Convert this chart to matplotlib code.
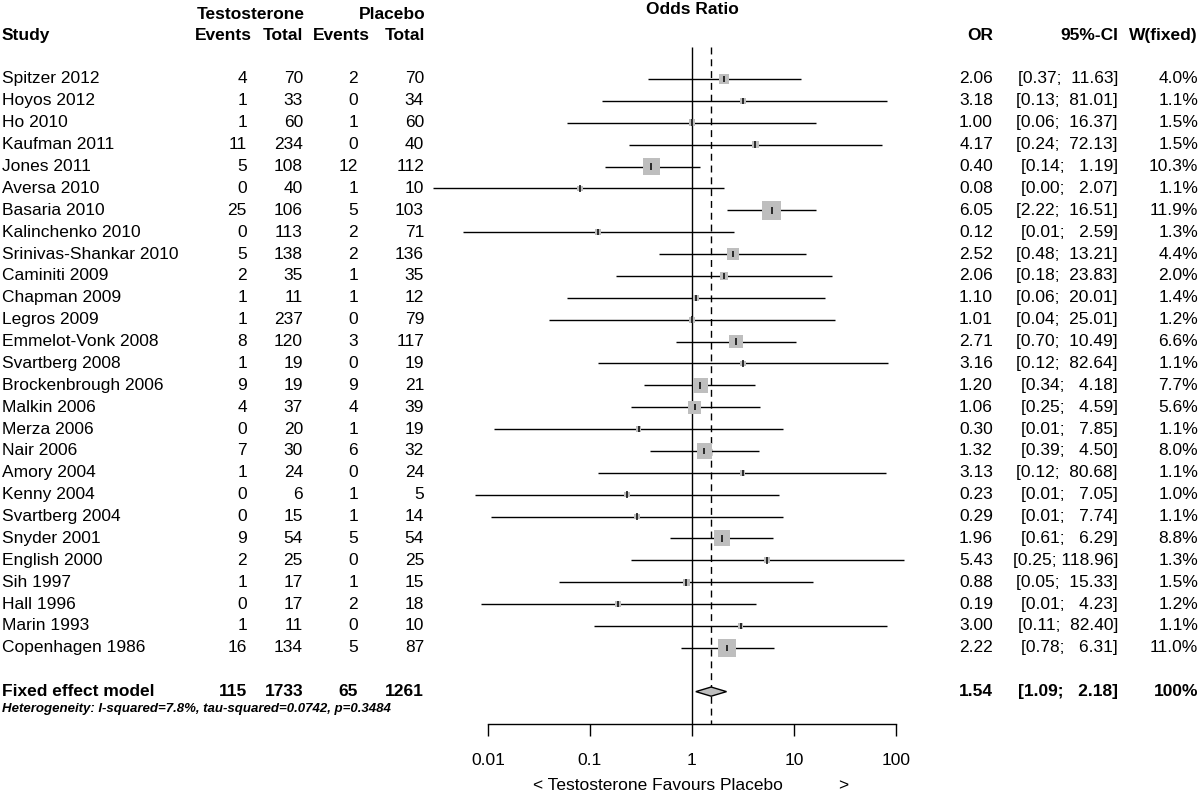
import numpy as np
import matplotlib
matplotlib.use("Agg")
import matplotlib.pyplot as plt
from matplotlib.transforms import blended_transform_factory

plt.rcParams['font.family'] = ['Liberation Sans', 'DejaVu Sans']

studies = ["Spitzer 2012", "Hoyos 2012", "Ho 2010", "Kaufman 2011", "Jones 2011",
           "Aversa 2010", "Basaria 2010", "Kalinchenko 2010", "Srinivas-Shankar 2010",
           "Caminiti 2009", "Chapman 2009", "Legros 2009", "Emmelot-Vonk 2008",
           "Svartberg 2008", "Brockenbrough 2006", "Malkin 2006", "Merza 2006",
           "Nair 2006", "Amory 2004", "Kenny 2004", "Svartberg 2004", "Snyder 2001",
           "English 2000", "Sih 1997", "Hall 1996", "Marin 1993", "Copenhagen 1986"]
t_events = [4, 1, 1, 11, 5, 0, 25, 0, 5, 2, 1, 1, 8, 1, 9, 4, 0, 7, 1, 0, 0, 9, 2, 1, 0, 1, 16]
t_total = [70, 33, 60, 234, 108, 40, 106, 113, 138, 35, 11, 237, 120, 19, 19, 37, 20, 30, 24, 6, 15, 54, 25, 17, 17, 11, 134]
p_events = [2, 0, 1, 0, 12, 1, 5, 2, 2, 1, 1, 0, 3, 0, 9, 4, 1, 6, 0, 1, 1, 5, 0, 1, 2, 0, 5]
p_total = [70, 34, 60, 40, 112, 10, 103, 71, 136, 35, 12, 79, 117, 19, 21, 39, 19, 32, 24, 5, 14, 54, 25, 15, 18, 10, 87]
odds = [2.06, 3.18, 1.00, 4.17, 0.40, 0.08, 6.05, 0.12, 2.52, 2.06, 1.10, 1.01, 2.71, 3.16,
        1.20, 1.06, 0.30, 1.32, 3.13, 0.23, 0.29, 1.96, 5.43, 0.88, 0.19, 3.00, 2.22]
ci_lo = [0.37, 0.13, 0.06, 0.24, 0.14, 0.0029, 2.22, 0.0057, 0.48, 0.18, 0.06, 0.04, 0.70, 0.12,
         0.34, 0.25, 0.0115, 0.39, 0.12, 0.0075, 0.0108, 0.61, 0.25, 0.05, 0.0086, 0.11, 0.78]
ci_hi = [11.63, 81.01, 16.37, 72.13, 1.19, 2.07, 16.51, 2.59, 13.21, 23.83, 20.01, 25.01, 10.49, 82.64,
         4.18, 4.59, 7.85, 4.50, 80.68, 7.05, 7.74, 6.29, 118.96, 15.33, 4.23, 82.40, 6.31]
weights = [4.0, 1.1, 1.5, 1.5, 10.3, 1.1, 11.9, 1.3, 4.4, 2.0, 1.4, 1.2, 6.6, 1.1,
           7.7, 5.6, 1.1, 8.0, 1.1, 1.0, 1.1, 8.8, 1.3, 1.5, 1.2, 1.1, 11.0]

fixed_label = "Fixed effect model"
fixed_counts = [115, 1733, 65, 1261]
fixed_or, fixed_lo, fixed_hi = 1.54, 1.09, 2.18
heterogeneity = "Heterogeneity: I-squared=7.8%, tau-squared=0.0742, p=0.3484"
tick_vals = [0.01, 0.1, 1, 10, 100]
tick_labels = ["0.01", "0.1", "1", "10", "100"]

W, H = 1200, 796
FS = 12.5
gray = "#bebebe"

fig = plt.figure(figsize=(W / 100, H / 100), dpi=100)
ax = fig.add_axes([488 / W, (H - 724) / H, 408 / W, 724 / H])
ax.set_xscale("log")
ax.set_xlim(0.01, 100)
ax.set_ylim(29.48, -3.61)
for s in ["top", "left", "right"]:
    ax.spines[s].set_visible(False)
ax.spines["bottom"].set_linewidth(1)
ax.set_yticks([])
ax.set_xticks(tick_vals)
ax.set_xticklabels(tick_labels, fontsize=FS)
ax.minorticks_off()
ax.tick_params(axis="x", length=8.5, width=1, pad=12.5)

rows = np.arange(len(studies))
fixed_row = len(studies) + 1

# reference lines
ax.vlines(1, -1.46, 29.48, color="black", lw=1, clip_on=False)
ax.vlines(fixed_or, -1.46, 29.48, color="black", lw=1, linestyles=(0, (5, 3.5)), clip_on=False)

# CIs, boxes, point ticks
ax.hlines(rows, ci_lo, ci_hi, color="black", lw=1, clip_on=False, zorder=2)
side = 5.4 * np.sqrt(np.array(weights)) * 0.72
ax.scatter(odds, rows, s=side ** 2, marker="s", color=gray, linewidths=0, zorder=3, clip_on=False)
ax.vlines(odds, rows - 0.15, rows + 0.15, color="black", lw=1.1, zorder=4)

# fixed-effect diamond
dh = 0.21
ax.fill([fixed_lo, fixed_or, fixed_hi, fixed_or],
        [fixed_row, fixed_row - dh, fixed_row, fixed_row + dh],
        facecolor=gray, edgecolor="black", lw=1, zorder=3)

tr = blended_transform_factory(fig.transFigure, ax.transData)


def put(xpx, y, s, ha="right", **kw):
    ax.text(xpx / W, y, s, transform=tr, ha=ha, va="center", fontsize=kw.pop("fontsize", FS),
            clip_on=False, **kw)


# headers
put(2, -1.97, "Study", ha="left", fontweight="bold")
put(305, -2.93, "Testosterone", fontweight="bold")
put(425, -2.93, "Placebo", fontweight="bold")
put(252, -1.97, "Events", fontweight="bold")
put(303, -1.97, "Total", fontweight="bold")
put(370, -1.97, "Events", fontweight="bold")
put(425, -1.97, "Total", fontweight="bold")
put(692, -3.18, "Odds Ratio", ha="center", fontweight="bold")
put(993, -1.97, "OR", fontweight="bold")
put(1118, -1.97, "95%-CI", fontweight="bold")
put(1198, -1.97, "W(fixed)", fontweight="bold")

for i, name in enumerate(studies):
    put(2, i, name, ha="left")
    put(247, i, str(t_events[i]))
    put(303, i, str(t_total[i]))
    put(358, i, str(p_events[i]))
    put(424, i, str(p_total[i]))
    put(993, i, f"{odds[i]:.2f}")
    put(1118, i, f"[{ci_lo[i]:.2f}; {ci_hi[i]:6.2f}]")
    put(1198, i, f"{weights[i]:.1f}%")

put(2, fixed_row, fixed_label, ha="left", fontweight="bold")
for xpx, v in zip([247, 303, 358, 424], fixed_counts):
    put(xpx, fixed_row, str(v), fontweight="bold")
put(993, fixed_row, f"{fixed_or:.2f}", fontweight="bold")
put(1118, fixed_row, f"[{fixed_lo:.2f}; {fixed_hi:6.2f}]", fontweight="bold")
put(1198, fixed_row, "100%", fontweight="bold")
put(2, 28.78, heterogeneity, ha="left", fontsize=9.5, fontweight="bold", fontstyle="italic")

fig.text(533 / W, 1 - 786 / H, "< Testosterone Favours Placebo", ha="left", va="center", fontsize=FS)
fig.text(838 / W, 1 - 786 / H, ">", ha="left", va="center", fontsize=FS)

fig.savefig("out.png", dpi=100)
